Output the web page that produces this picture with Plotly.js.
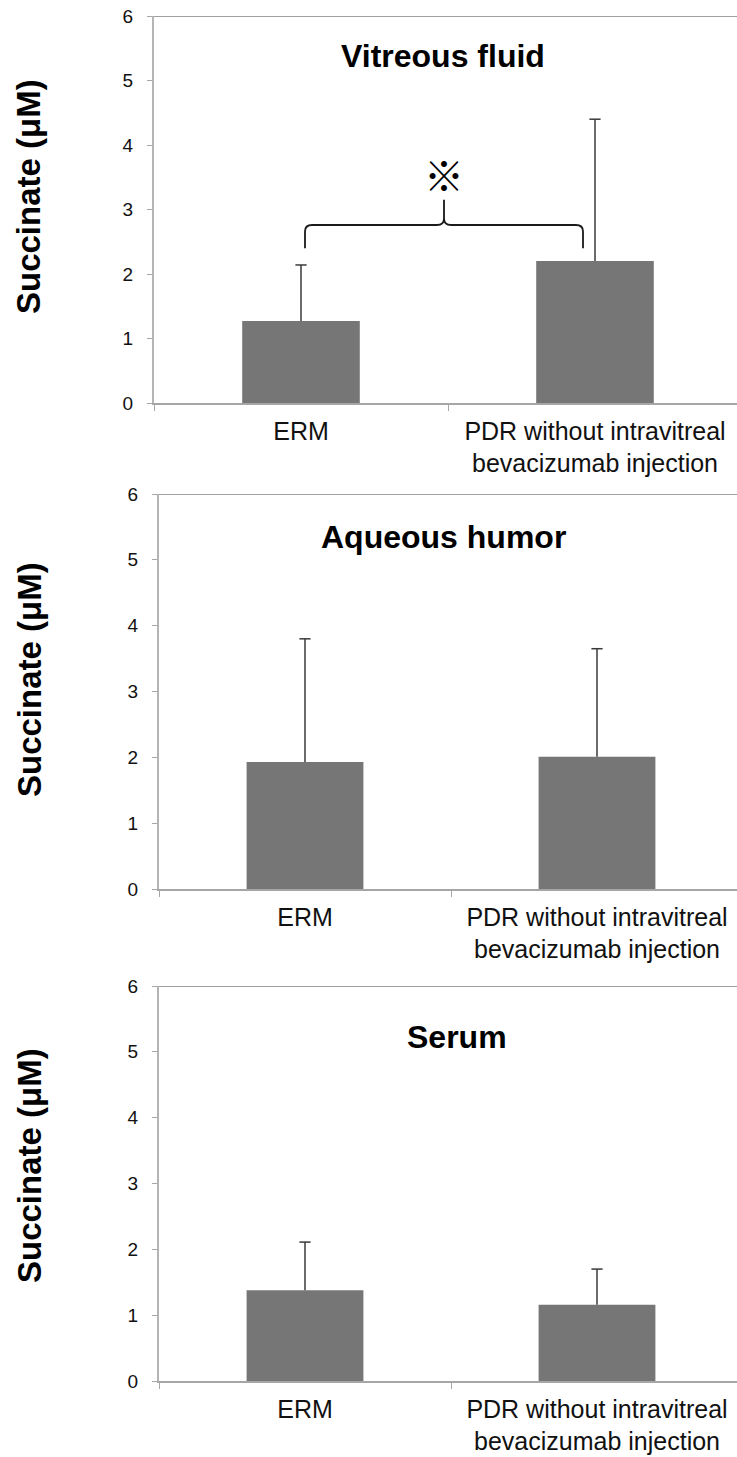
<!DOCTYPE html>
<html><head><meta charset="utf-8">
<script src="https://cdn.plot.ly/plotly-3.0.1.min.js"></script>
<style>html,body{margin:0;padding:0;overflow:hidden;background:#fff}</style>
</head><body>
<div id="chart" style="width:745px;height:1457px"></div>
<script>
// ---- data ----
const categories = ["ERM", "PDR without intravitreal<br>bevacizumab injection"];
const panelTitles = ["Vitreous fluid", "Aqueous humor", "Serum"];
const vitreousMean = [1.27, 2.20];
const vitreousSD = [0.87, 2.20];
const aqueousMean = [1.93, 2.01];
const aqueousSD = [1.87, 1.64];
const serumMean = [1.38, 1.16];
const serumSD = [0.73, 0.54];
const yTicks = [0, 1, 2, 3, 4, 5, 6];
const yTitle = "Succinate (μM)";
const significanceMark = "※";
const bracketY = [2.40, 2.76, 3.15]; // end, bar, peak (vitreous)
const markY = 3.55;

// ---- layout (pixels) ----
const W = 745, H = 1457;
const panels = [
  {mean: vitreousMean, sd: vitreousSD, top: 16, bottom: 403, left: 154, right: 742, titleX: 443, titleY: 5.38, yTitleY: 197},
  {mean: aqueousMean, sd: aqueousSD, top: 494, bottom: 889, left: 159, right: 743, titleX: 443, titleY: 5.34, yTitleY: 680},
  {mean: serumMean, sd: serumSD, top: 986, bottom: 1381, left: 159, right: 743, titleX: 457, titleY: 5.23, yTitleY: 1166}
];
const FONT = "Liberation Sans, Arial, sans-serif";
const px = p => p / W;
const py = p => 1 - p / H;

const data = [];
const layout = {
  width: W, height: H, margin: {l: 0, r: 0, t: 0, b: 0},
  paper_bgcolor: "#fff", plot_bgcolor: "#fff",
  showlegend: false, bargap: 0.6,
  font: {family: FONT, color: "#000"},
  annotations: [], shapes: []
};

const ERR = "#3a3a3a";
panels.forEach((p, i) => {
  const s = i === 0 ? "" : String(i + 1);
  const xa = "x" + s, ya = "y" + s;
  data.push({
    type: "bar", x: categories, y: p.mean, xaxis: xa, yaxis: ya,
    marker: {color: "#767676", line: {width: 0}}, hoverinfo: "skip"
  });
  // error bar stems (upper only)
  const sx = [], sy = [];
  p.mean.forEach((m, k) => { sx.push(categories[k], categories[k], null); sy.push(m, m + p.sd[k], null); });
  data.push({
    type: "scatter", mode: "lines", x: sx, y: sy, xaxis: xa, yaxis: ya,
    line: {color: ERR, width: 1.5}, hoverinfo: "skip", cliponaxis: false
  });
  data.push({
    type: "scatter", mode: "markers", x: categories, y: p.mean.map((m, k) => m + p.sd[k]),
    xaxis: xa, yaxis: ya, cliponaxis: false,
    marker: {symbol: "line-ew-open", size: 8, color: ERR, line: {color: ERR, width: 1.5}}, hoverinfo: "skip"
  });
  layout["xaxis" + s] = {
    type: "category", domain: [px(p.left), px(p.right)], anchor: ya,
    range: [-0.5, 1.5], showline: true, linecolor: "#a6a6a6", linewidth: 1.5,
    ticks: "outside", tickson: "boundaries", ticklen: 6, tickcolor: "#a6a6a6", tickwidth: 1,
    showgrid: false, zeroline: false, fixedrange: true,
    tickfont: {family: FONT, size: 25, color: "#111"}, ticklabelstandoff: 5
  };
  layout["yaxis" + s] = {
    domain: [py(p.bottom), py(p.top)], anchor: xa, range: [0, 6],
    tickvals: yTicks, ticktext: yTicks.map(String),
    showline: true, linecolor: "#b4b4b4", linewidth: 2,
    ticks: "outside", ticklen: 5, tickcolor: "#a6a6a6", tickwidth: 1,
    showgrid: false, zeroline: false, fixedrange: true,
    tickfont: {family: FONT, size: 19, color: "#111"}, ticklabelstandoff: 10
  };
  // top border
  layout.shapes.push({type: "line", xref: xa + " domain", yref: ya, x0: 0, x1: 1, y0: 6, y1: 6,
    line: {color: "#808080", width: 1.5}});
  // panel title
  layout.annotations.push({text: "<b>" + panelTitles[i] + "</b>", xref: "paper", yref: ya,
    x: px(p.titleX), y: p.titleY, xanchor: "center", yanchor: "middle", showarrow: false,
    font: {family: FONT, size: 32, color: "#000"}});
  // y title
  layout.annotations.push({text: "<b>" + yTitle + "</b>", xref: "paper", yref: "paper",
    x: px(29), y: py(p.yTitleY), xanchor: "center", yanchor: "middle", textangle: -90, showarrow: false,
    font: {family: FONT, size: 33, color: "#000"}});
});

// significance bracket (vitreous panel)
const xl = px(305), xr = px(583), xc = px(444), r = px(7);
const [yE, yB, yP] = bracketY, d = 0.1;
const path = `M${xl},${yE} L${xl},${yB - d} Q${xl},${yB} ${xl + r},${yB} L${xc - r},${yB} Q${xc},${yB} ${xc},${yB + d} L${xc},${yP} ` +
             `M${xc},${yB + d} Q${xc},${yB} ${xc + r},${yB} L${xr - r},${yB} Q${xr},${yB} ${xr},${yB - d} L${xr},${yE}`;
layout.shapes.push({type: "path", xref: "paper", yref: "y", path: path, line: {color: "#1a1a1a", width: 1.8}});
layout.annotations.push({text: "<b>" + significanceMark + "</b>", xref: "paper", yref: "y", x: xc, y: markY,
  xanchor: "center", yanchor: "middle", showarrow: false,
  font: {family: "Noto Sans CJK JP, DejaVu Sans", size: 40, color: "#000"}});

Plotly.newPlot("chart", data, layout, {staticPlot: true, displayModeBar: false});
</script>
</body></html>
